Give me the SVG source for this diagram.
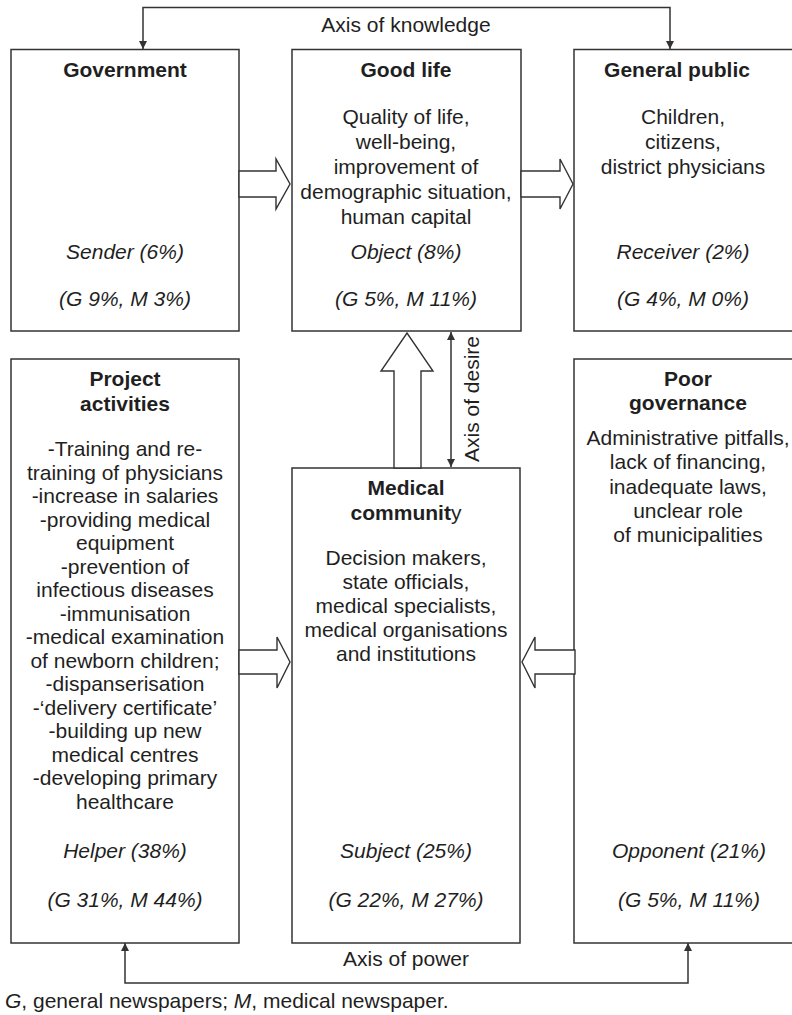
<svg xmlns="http://www.w3.org/2000/svg" width="792" height="1015" viewBox="0 0 792 1015">
<style>
text{font-family:"Liberation Sans",Arial,sans-serif;font-size:21px;fill:#1f1f1f;text-anchor:middle}
.b{font-weight:bold}
.i{font-style:italic}
.box{fill:#fff;stroke:#333;stroke-width:1.5}
.ln{fill:none;stroke:#333;stroke-width:1.5}
.ha{fill:#fff;stroke:#333;stroke-width:1.4;stroke-linejoin:miter}
</style>
<defs>
<marker id="ah" viewBox="0 0 10 10" refX="10" refY="5" markerWidth="8" markerHeight="8" markerUnits="userSpaceOnUse" orient="auto-start-reverse">
<path d="M0,0 L10,5 L0,10 z" fill="#333"/>
</marker>
</defs>
<g id="government">
<rect class="box" x="11" y="49.5" width="228" height="281.5"/>
<text class="b" x="125" y="77">Government</text>
<text class="i" x="125" y="259">Sender (6%)</text>
<text class="i" x="125" y="306">(G 9%, M 3%)</text>
</g>
<g id="good-life">
<rect class="box" x="292" y="49.5" width="229" height="281.5"/>
<text class="b" x="406" y="77">Good life</text>
<text x="406" y="124">Quality of life,</text>
<text x="406" y="149">well-being,</text>
<text x="406" y="174">improvement of</text>
<text x="406" y="199">demographic situation,</text>
<text x="406" y="224">human capital</text>
<text class="i" x="406" y="259">Object (8%)</text>
<text class="i" x="406" y="306">(G 5%, M 11%)</text>
</g>
<g id="general-public">
<rect class="box" x="574" y="49.5" width="230" height="281.5"/>
<text class="b" x="677" y="77">General public</text>
<text x="683" y="124">Children,</text>
<text x="683" y="149">citizens,</text>
<text x="683" y="174">district physicians</text>
<text class="i" x="683" y="259">Receiver (2%)</text>
<text class="i" x="683" y="306">(G 4%, M 0%)</text>
</g>
<g id="project-activities">
<rect class="box" x="11" y="359" width="228" height="584"/>
<text class="b" x="125" y="386">Project</text>
<text class="b" x="125" y="411">activities</text>
<text x="125" y="456">-Training and re-</text>
<text x="125" y="479.5">training of physicians</text>
<text x="125" y="503">-increase in salaries</text>
<text x="125" y="526.5">-providing medical</text>
<text x="125" y="550">equipment</text>
<text x="125" y="573.5">-prevention of</text>
<text x="125" y="597">infectious diseases</text>
<text x="125" y="620.5">-immunisation</text>
<text x="125" y="644">-medical examination</text>
<text x="125" y="667.5">of newborn children;</text>
<text x="125" y="691">-dispanserisation</text>
<text x="125" y="714.5">-‘delivery certificate’</text>
<text x="125" y="738">-building up new</text>
<text x="125" y="761.5">medical centres</text>
<text x="125" y="785">-developing primary</text>
<text x="125" y="808.5">healthcare</text>
<text class="i" x="125" y="858">Helper (38%)</text>
<text class="i" x="125" y="907">(G 31%, M 44%)</text>
</g>
<g id="medical-community">
<rect class="box" x="292" y="468" width="228" height="475"/>
<text class="b" x="406" y="495">Medical</text>
<text x="406" y="520"><tspan class="b">communit</tspan>y</text>
<text x="406" y="565">Decision makers,</text>
<text x="406" y="589">state officials,</text>
<text x="406" y="613">medical specialists,</text>
<text x="406" y="637">medical organisations</text>
<text x="406" y="661">and institutions</text>
<text class="i" x="406" y="858">Subject (25%)</text>
<text class="i" x="406" y="907">(G 22%, M 27%)</text>
</g>
<g id="poor-governance">
<rect class="box" x="574" y="359" width="230" height="584"/>
<text class="b" x="688" y="386">Poor</text>
<text class="b" x="688" y="410">governance</text>
<text x="688" y="445">Administrative pitfalls,</text>
<text x="688" y="469">lack of financing,</text>
<text x="688" y="494">inadequate laws,</text>
<text x="688" y="518">unclear role</text>
<text x="688" y="542">of municipalities</text>
<text class="i" x="689" y="858">Opponent (21%)</text>
<text class="i" x="689" y="907">(G 5%, M 11%)</text>
</g>
<g id="connectors">
<polygon class="ha" points="239,171 276,171 276,159 290,184 276,209 276,197 239,197"/>
<polygon class="ha" points="521,171 560,171 560,159 573,184 560,209 560,197 521,197"/>
<polygon class="ha" points="239,650 277,650 277,637 290,662 277,688 277,674 239,674"/>
<polygon class="ha" points="575,650 535,650 535,637 522,662 535,688 535,674 575,674"/>
<polygon class="ha" points="394,468 394,371 381,371 407,333 433,371 421,371 421,468"/>
<path class="ln" d="M143,49 V7.5 H670 V49" marker-start="url(#ah)" marker-end="url(#ah)"/>
<path class="ln" d="M125,943 V983 H688 V943" marker-start="url(#ah)" marker-end="url(#ah)"/>
<path class="ln" d="M451,332 V467" marker-start="url(#ah)" marker-end="url(#ah)"/>
<text x="406" y="32">Axis of knowledge</text>
<text x="406" y="966">Axis of power</text>
<text transform="translate(479,399) rotate(-90)">Axis of desire</text>
</g>
<text x="5" y="1008" style="text-anchor:start"><tspan class="i">G</tspan>, general newspapers; <tspan class="i">M</tspan>, medical newspaper.</text>
</svg>
